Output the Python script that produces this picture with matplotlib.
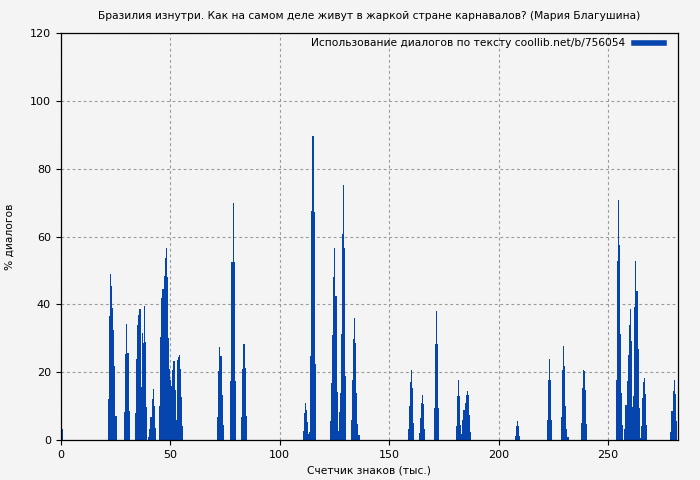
import matplotlib
matplotlib.use("Agg")
import matplotlib.pyplot as plt
from matplotlib.lines import Line2D

plt.rcParams['font.family'] = ['DejaVu Sans']

BIN = 0.5  # bin width, thousand chars

# groups of consecutive bins: (first bin start, [% dialogues per bin])
group_starts = [0, 21.5, 29, 34, 40, 45, 71.5, 77.5, 82.5, 110.5, 123, 132.5,
                158.5, 163.5, 170.5, 180.5, 183, 207.5, 222, 228.5, 237.5,
                253.5, 278.5]
group_values = [
    [9.7, 3.2],
    [12.1, 36.5, 48.8, 45.3, 38.8, 32.4, 21.8, 7.1],
    [8.2, 25.3, 34.1, 25.6, 8.5],
    [7.9, 23.8, 34, 37, 38.5, 15.6, 31.5, 28.5, 39.4, 29, 9.7],
    [0.9, 3.2, 6.8, 12.1, 15, 10, 3.5],
    [10, 30.3, 41.8, 44.4, 48.5, 53.8, 56.5, 48, 30, 21, 17.6, 15.9, 20.6,
     23.2, 14.7, 5.9, 23.5, 24.4, 25.2, 20.9, 12.6, 4.1],
    [6.8, 20.3, 27.4, 24.7, 13.2, 4.4],
    [17.4, 52.4, 70, 52.4, 17.4],
    [6.8, 20.9, 28.2, 21.2, 7.1],
    [2.6, 7.9, 10.9, 8.8, 5.3, 1.8, 2.4, 24.7, 67.6, 89.6, 67.2, 22.4],
    [5.6, 16.8, 31, 48, 56.5, 42.4, 14.1,
     2.7, 8.2, 13.8, 31.2, 60.6, 75.3, 56.5, 18.8],
    [5.9, 17.7, 29.9, 36.1, 28.7, 13.9, 4.7, 1.5],
    [3.2, 10, 17.1, 20.6, 15.3, 5],
    [2.1, 6.5, 10.9, 13.3, 10.5, 3.2],
    [9.4, 28.3, 38, 28.3, 9.4],
    [4.1, 13, 17.7, 13, 4.4],
    [1.8, 5.9, 8.8, 10.9, 13.3, 14.5, 13.3, 7.4, 2.4],
    [1.2, 4.1, 5.6, 4.1, 1.2],
    [5.9, 17.7, 23.9, 17.7, 5.9],
    [6.8, 20.7, 27.8, 21.9, 10, 3.3, 0.9],
    [5, 15.4, 20.7, 20.4, 14.8, 4.7],
    [17.6, 52.8, 70.7, 57.5, 31.4, 13.8, 4.4, 0, 3.2, 10.3, 17.3, 25.2, 34,
     38.7, 29.1, 9.7, 12.9, 39.3, 52.8, 44, 26.7, 9.4, 0.6, 4.1, 12.3, 17,
     18.2, 13.5, 4.4],
    [2.3, 8.5, 14.4, 17.6, 13.5, 5.6],
]

xs, ys = [], []
for s, vals in zip(group_starts, group_values):
    for i, v in enumerate(vals):
        xs.append(s + i * BIN)
        ys.append(v)

title = "Бразилия изнутри. Как на самом деле живут в жаркой стране карнавалов? (Мария Благушина)"
legend_label = "Использование диалогов по тексту coollib.net/b/756054"
xlabel = "Счетчик знаков (тыс.)"
ylabel = "% диалогов"

bg = '#f4f4f4'
bar_color = '#0645ad'
TXT = 7.7

fig = plt.figure(figsize=(7, 4.8), dpi=100, facecolor=bg)
ax = fig.add_axes([0.0867, 0.0833, 0.9686 - 0.0867, 0.93125 - 0.0833])
ax.set_facecolor(bg)

ax.bar(xs, ys, width=BIN, align='edge', color=bar_color, linewidth=0,
       label=legend_label)

ax.set_xlim(0, 282)
ax.set_ylim(0, 120)
ax.set_xticks([0, 50, 100, 150, 200, 250])
ax.set_yticks([0, 20, 40, 60, 80, 100, 120])
ax.tick_params(labelsize=8, length=3.5)
ax.set_axisbelow(True)
ax.grid(True, color='#9a9a9a', linestyle=(0, (2.5, 2.5)), linewidth=0.8)
for sp in ax.spines.values():
    sp.set_linewidth(0.9)

ax.set_title(title, fontsize=TXT, pad=10)
ax.set_xlabel(xlabel, fontsize=TXT, labelpad=4)
ax.set_ylabel(ylabel, fontsize=TXT, labelpad=11)

handle = Line2D([], [], color=bar_color, linewidth=4)
ax.legend([handle], [legend_label], loc='upper right', frameon=False,
          fontsize=TXT, markerfirst=False, handlelength=2.8,
          handletextpad=0.8, borderaxespad=0, borderpad=0.3,
          bbox_to_anchor=(0.9820, 0.995))

fig.savefig('out.png', dpi=100, facecolor=bg)
